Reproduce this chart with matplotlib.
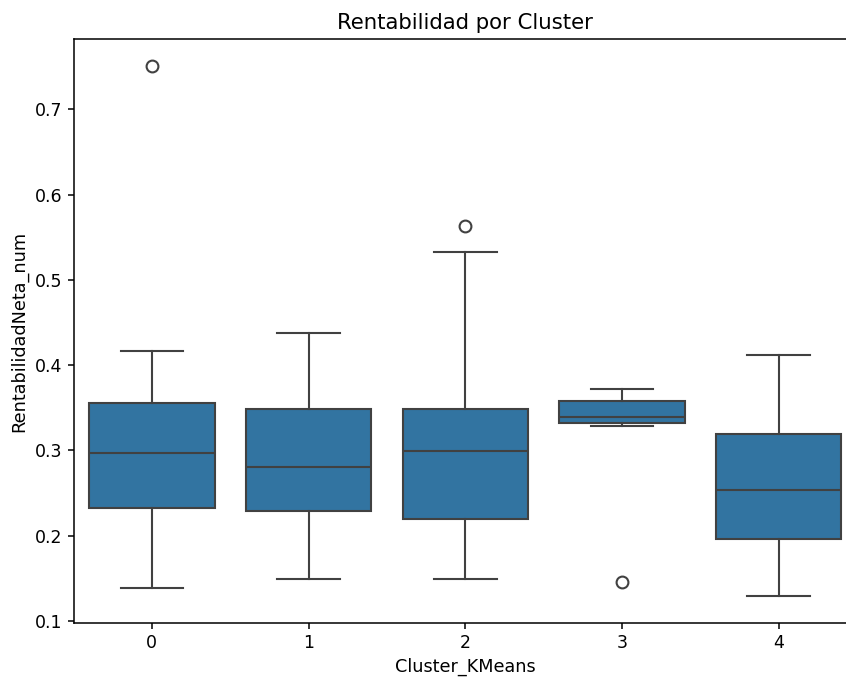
import matplotlib
matplotlib.use("Agg")
import matplotlib.pyplot as plt

clusters = [0, 1, 2, 3, 4]
whislo = [0.138, 0.149, 0.149, 0.329, 0.129]
q1 = [0.232, 0.229, 0.219, 0.332, 0.196]
med = [0.297, 0.280, 0.299, 0.339, 0.253]
q3 = [0.356, 0.349, 0.349, 0.358, 0.319]
whishi = [0.416, 0.438, 0.533, 0.372, 0.412]
fliers = [[0.751], [], [0.563], [0.146], []]

stats = []
for i in range(len(clusters)):
    stats.append(dict(whislo=whislo[i], q1=q1[i], med=med[i], q3=q3[i],
                      whishi=whishi[i], fliers=fliers[i], label=str(clusters[i])))

fig = plt.figure(figsize=(8.46, 6.8), dpi=100)
ax = fig.add_axes([0.0869, 0.0843, 0.926, 0.858])

lc = "#414141"
lw = 1.5
ax.bxp(stats, positions=list(range(len(clusters))), widths=0.8, patch_artist=True,
       capwidths=0.4,
       boxprops=dict(facecolor="#3274a1", edgecolor=lc, linewidth=lw),
       medianprops=dict(color=lc, linewidth=lw),
       whiskerprops=dict(color=lc, linewidth=lw),
       capprops=dict(color=lc, linewidth=lw),
       flierprops=dict(marker="o", markerfacecolor="none", markeredgecolor=lc,
                       markersize=8.5, markeredgewidth=lw))

ax.set_xlim(-0.5, 4.5)
ax.tick_params(labelsize=12.5, length=4.5, width=1.1)
for s in ax.spines.values():
    s.set_linewidth(1.1)
ax.set_title("Rentabilidad por Cluster", fontsize=15.3, pad=7.5)
ax.set_xlabel("Cluster_KMeans", fontsize=12.7, labelpad=4)
ax.set_ylabel("RentabilidadNeta_num", fontsize=12.7, labelpad=5)

fig.savefig("out.png", dpi=100)
